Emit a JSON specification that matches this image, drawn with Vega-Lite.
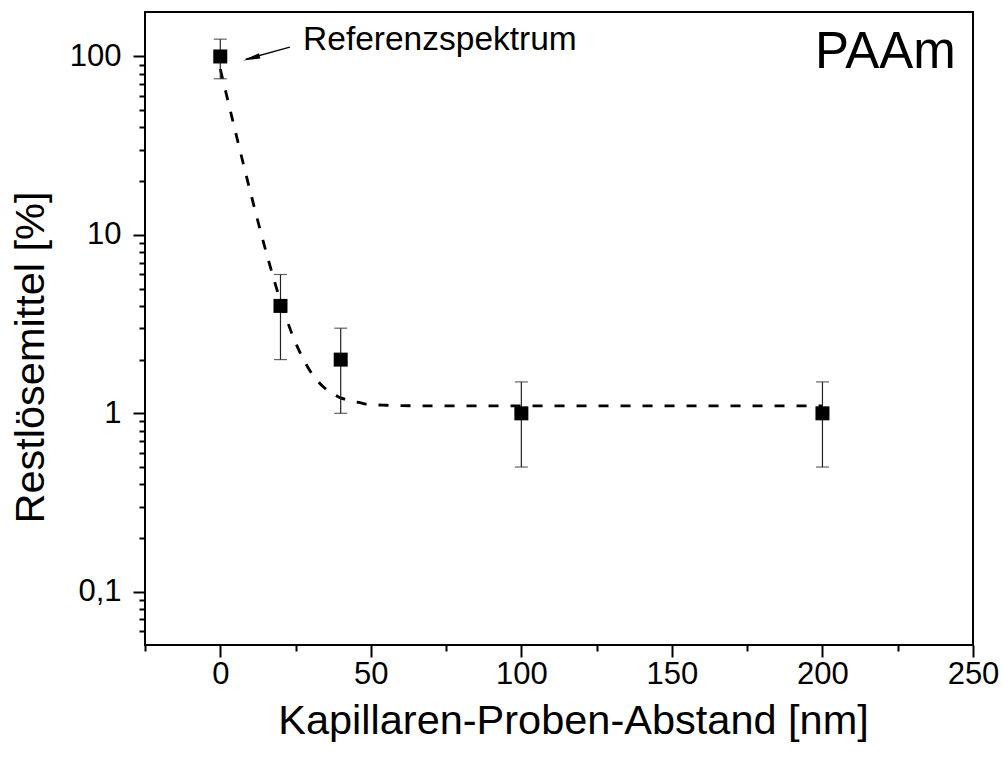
{
  "$schema": "https://vega.github.io/schema/vega-lite/v6.json",
  "width": 828,
  "height": 633,
  "autosize": "none",
  "padding": {"left": 145, "top": 12, "right": 30, "bottom": 118},
  "background": "white",
  "config": {
    "view": {"stroke": "black", "strokeWidth": 2},
    "font": "Liberation Sans",
    "axis": {"labelFont": "Liberation Sans", "titleFont": "Liberation Sans", "labelColor": "black", "titleColor": "black", "tickColor": "black", "titleFontWeight": "normal", "grid": false, "domain": false}
  },
  "datasets": {
    "points": [
      {"x": 0, "y": 100, "lo": 75, "hi": 125},
      {"x": 20, "y": 4, "lo": 2, "hi": 6},
      {"x": 40, "y": 2, "lo": 1, "hi": 3},
      {"x": 100, "y": 1, "lo": 0.5, "hi": 1.5},
      {"x": 200, "y": 1, "lo": 0.5, "hi": 1.5}
    ],
    "fit": [
      {"x": 0, "y": 85.1}, {"x": 2, "y": 61.6}, {"x": 4, "y": 44.7}, {"x": 6, "y": 32.5},
      {"x": 8, "y": 23.7}, {"x": 10, "y": 17.4}, {"x": 12, "y": 12.84}, {"x": 14, "y": 9.56},
      {"x": 16, "y": 7.2}, {"x": 18, "y": 5.49}, {"x": 20, "y": 4.26}, {"x": 22, "y": 3.38},
      {"x": 24, "y": 2.74}, {"x": 26, "y": 2.28}, {"x": 28, "y": 1.95}, {"x": 30, "y": 1.71},
      {"x": 32, "y": 1.54}, {"x": 34, "y": 1.42}, {"x": 36, "y": 1.33}, {"x": 38, "y": 1.27},
      {"x": 40, "y": 1.22}, {"x": 42, "y": 1.19}, {"x": 44, "y": 1.16}, {"x": 46, "y": 1.15},
      {"x": 48, "y": 1.13}, {"x": 50, "y": 1.12}, {"x": 55, "y": 1.11}, {"x": 60, "y": 1.105},
      {"x": 70, "y": 1.1}, {"x": 100, "y": 1.1}, {"x": 150, "y": 1.1}, {"x": 200, "y": 1.1}
    ],
    "arrow": [{"x": 23.1, "y": 112.8, "x2": 8.5, "y2": 96.5}],
    "head": [{"x": 10.36, "y": 97.8}],
    "labels": [
      {"x": 27.5, "y": 108.1, "text": "Referenzspektrum", "kind": "ref"},
      {"x": 244.3, "y": 85.7, "text": "PAAm", "kind": "title"}
    ]
  },
  "resolve": {"axis": {"x": "independent", "y": "independent"}},
  "layer": [
    {
      "data": {"name": "fit"},
      "mark": {"type": "line", "color": "black", "strokeWidth": 2.8, "strokeDash": [10, 12], "interpolate": "monotone"},
      "encoding": {
        "x": {"field": "x", "type": "quantitative",
          "scale": {"domain": [-25, 250], "nice": false, "zero": false},
          "axis": {"orient": "bottom", "values": [0, 50, 100, 150, 200, 250], "tickSize": 12, "tickWidth": 2,
            "labelFontSize": 31, "labelPadding": 2, "labelFlush": false, "labelOverlap": false,
            "title": "Kapillaren-Proben-Abstand [nm]", "titleFontSize": 41.5,
            "titleX": 428, "titleY": 88, "titleAlign": "center", "titleBaseline": "alphabetic"}},
        "y": {"field": "y", "type": "quantitative",
          "scale": {"type": "log", "domain": [0.0503, 177.5], "nice": false},
          "axis": {"orient": "left", "values": [0.1, 1, 10, 100], "tickSize": 12, "tickWidth": 2,
            "labelFontSize": 31, "labelPadding": 12, "labelFlush": false, "labelOverlap": false,
            "labelExpr": "replace(format(datum.value, '~g'), '.', ',')",
            "title": "Restlösemittel [%]", "titleFontSize": 41.5,
            "titleX": -102, "titleY": 345, "titleAngle": -90, "titleAlign": "center", "titleBaseline": "alphabetic"}}
      }
    },
    {
      "data": {"name": "points"},
      "mark": {"type": "rule", "color": "#222", "strokeWidth": 1.2},
      "encoding": {
        "x": {"field": "x", "type": "quantitative", "axis": null},
        "y": {"field": "lo", "type": "quantitative", "axis": null},
        "y2": {"field": "hi"}
      }
    },
    {
      "data": {"name": "points"},
      "mark": {"type": "tick", "color": "#222", "orient": "horizontal", "size": 13, "thickness": 1.2},
      "encoding": {
        "x": {"field": "x", "type": "quantitative", "axis": null},
        "y": {"field": "lo", "type": "quantitative", "axis": null}
      }
    },
    {
      "data": {"name": "points"},
      "mark": {"type": "tick", "color": "#222", "orient": "horizontal", "size": 13, "thickness": 1.2},
      "encoding": {
        "x": {"field": "x", "type": "quantitative", "axis": null},
        "y": {"field": "hi", "type": "quantitative", "axis": null}
      }
    },
    {
      "data": {"name": "points"},
      "mark": {"type": "point", "shape": "square", "size": 196, "filled": true, "color": "black", "opacity": 1},
      "encoding": {
        "x": {"field": "x", "type": "quantitative",
          "axis": {"orient": "bottom", "values": [-25, 25, 75, 125, 175, 225], "tickSize": 6, "tickWidth": 2, "labels": false, "title": null}},
        "y": {"field": "y", "type": "quantitative",
          "axis": {"orient": "left", "values": [0.06, 0.07, 0.08, 0.09, 0.2, 0.3, 0.4, 0.5, 0.6, 0.7, 0.8, 0.9, 2, 3, 4, 5, 6, 7, 8, 9, 20, 30, 40, 50, 60, 70, 80, 90], "tickSize": 6, "tickWidth": 2, "labels": false, "title": null}}
      }
    },
    {
      "data": {"name": "arrow"},
      "mark": {"type": "rule", "color": "black", "strokeWidth": 1.3},
      "encoding": {
        "x": {"field": "x", "type": "quantitative", "axis": null},
        "y": {"field": "y", "type": "quantitative", "axis": null},
        "x2": {"field": "x2"},
        "y2": {"field": "y2"}
      }
    },
    {
      "data": {"name": "head"},
      "mark": {"type": "point", "shape": "M -1 0 L 1 -0.32 L 1 0.32 Z", "size": 289, "filled": true, "color": "black", "opacity": 1, "angle": 344},
      "encoding": {
        "x": {"field": "x", "type": "quantitative", "axis": null},
        "y": {"field": "y", "type": "quantitative", "axis": null}
      }
    },
    {
      "data": {"name": "labels"},
      "transform": [{"filter": "datum.kind == 'ref'"}],
      "mark": {"type": "text", "align": "left", "baseline": "alphabetic", "fontSize": 33.5, "color": "black", "font": "Liberation Sans"},
      "encoding": {
        "x": {"field": "x", "type": "quantitative", "axis": null},
        "y": {"field": "y", "type": "quantitative", "axis": null},
        "text": {"field": "text"}
      }
    },
    {
      "data": {"name": "labels"},
      "transform": [{"filter": "datum.kind == 'title'"}],
      "mark": {"type": "text", "align": "right", "baseline": "alphabetic", "fontSize": 51, "color": "black", "font": "Liberation Sans"},
      "encoding": {
        "x": {"field": "x", "type": "quantitative", "axis": null},
        "y": {"field": "y", "type": "quantitative", "axis": null},
        "text": {"field": "text"}
      }
    }
  ]
}
